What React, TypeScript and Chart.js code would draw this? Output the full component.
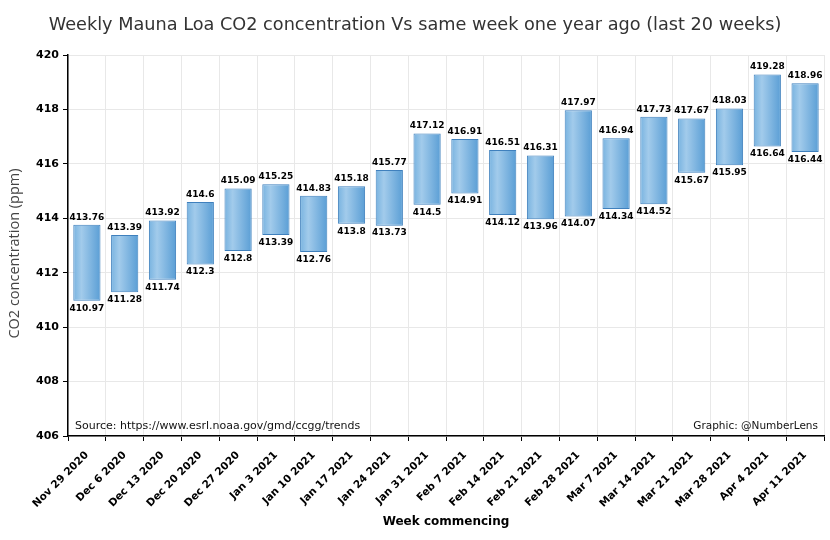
import Chart, { ChartConfiguration, Plugin } from 'chart.js/auto';
import React, { useEffect, useRef } from 'react';

const weeks = [
  'Nov 29 2020', 'Dec 6 2020', 'Dec 13 2020', 'Dec 20 2020', 'Dec 27 2020',
  'Jan 3 2021', 'Jan 10 2021', 'Jan 17 2021', 'Jan 24 2021', 'Jan 31 2021',
  'Feb 7 2021', 'Feb 14 2021', 'Feb 21 2021', 'Feb 28 2021', 'Mar 7 2021',
  'Mar 14 2021', 'Mar 21 2021', 'Mar 28 2021', 'Apr 4 2021', 'Apr 11 2021',
];

// same week one year ago
const lastYear = [
  410.97, 411.28, 411.74, 412.3, 412.8, 413.39, 412.76, 413.8, 413.73, 414.5,
  414.91, 414.12, 413.96, 414.07, 414.34, 414.52, 415.67, 415.95, 416.64, 416.44,
];

// this year
const thisYear = [
  413.76, 413.39, 413.92, 414.6, 415.09, 415.25, 414.83, 415.18, 415.77, 417.12,
  416.91, 416.51, 416.31, 417.97, 416.94, 417.73, 417.67, 418.03, 419.28, 418.96,
];

const FONT = '"DejaVu Sans", Verdana, sans-serif';

// horizontal gradient per bar, built from the laid-out elements
const gradientPlugin: Plugin = {
  id: 'barGradient',
  beforeDatasetsDraw(chart) {
    const ctx = chart.ctx;
    chart.getDatasetMeta(0).data.forEach((bar: any) => {
      const w = bar.width;
      if (!isFinite(bar.x) || !isFinite(w)) return;
      const g = ctx.createLinearGradient(bar.x - w / 2, 0, bar.x + w / 2, 0);
      g.addColorStop(0, '#78b3e0');
      g.addColorStop(0.3, '#a2cbeb');
      g.addColorStop(1, '#5a9ed5');
      // each bar has its own options object since backgroundColor is scriptable
      bar.options.backgroundColor = g;
    });
  },
};

// value labels above / below each bar, title and source notes
const labelsPlugin: Plugin = {
  id: 'barLabels',
  afterDatasetsDraw(chart) {
    const ctx = chart.ctx;
    const meta = chart.getDatasetMeta(0);
    ctx.save();
    ctx.font = 'bold 9px ' + FONT;
    ctx.fillStyle = '#000';
    ctx.textAlign = 'center';
    meta.data.forEach((bar: any, i: number) => {
      ctx.textBaseline = 'bottom';
      ctx.fillText(String(thisYear[i]), bar.x, bar.y - 3);
      ctx.textBaseline = 'top';
      ctx.fillText(String(lastYear[i]), bar.x, bar.base + 3);
    });

    const { left, right, top, bottom } = chart.chartArea;
    ctx.font = '11px ' + FONT;
    ctx.fillStyle = '#111';
    ctx.textBaseline = 'bottom';
    ctx.textAlign = 'left';
    ctx.fillText('Source: https://www.esrl.noaa.gov/gmd/ccgg/trends', left + 7, bottom - 4);
    ctx.font = '10.5px ' + FONT;
    ctx.textAlign = 'right';
    ctx.fillText('Graphic: @NumberLens', right - 6, bottom - 4);

    ctx.font = '17.7px ' + FONT;
    ctx.fillStyle = '#333';
    ctx.textAlign = 'center';
    ctx.textBaseline = 'middle';
    ctx.fillText(
      'Weekly Mauna Loa CO2 concentration Vs same week one year ago (last 20 weeks)',
      415,
      25
    );

    ctx.translate(15, (top + bottom) / 2 + 8);
    ctx.rotate(-Math.PI / 2);
    ctx.font = '14.5px "Open Sans", sans-serif';
    ctx.fillStyle = '#444';
    ctx.fillText('CO2 concentration (ppm)', 0, 0);
    ctx.restore();
  },
};

const App: React.FC = () => {
  const chartRef = useRef<HTMLCanvasElement>(null);

  useEffect(() => {
    if (!chartRef.current) return;
    const ctx = chartRef.current.getContext('2d');
    if (!ctx) return;

    const config: ChartConfiguration = {
      type: 'bar',
      data: {
        labels: weeks,
        datasets: [
          {
            data: weeks.map((_, i) => [lastYear[i], thisYear[i]]) as any,
            backgroundColor: () => '#7db7e2',
            borderColor: '#3f80bd',
            borderWidth: 1,
            borderSkipped: false,
            inflateAmount: 0,
          },
        ],
      },
      options: {
        responsive: false,
        animation: false,
        layout: { padding: { top: 55, right: 6, left: 0, bottom: 0 } },
        plugins: {
          legend: { display: false },
          tooltip: { enabled: false },
        },
        scales: {
          x: {
            grid: { color: '#e8e8e8', tickColor: '#000', tickLength: 5, offset: true },
            border: { color: '#000', width: 1.5 },
            ticks: {
              color: '#000',
              font: { family: FONT, size: 10.5, weight: 'bold' },
              minRotation: 45,
              maxRotation: 45,
              padding: 8,
            },
            title: {
              display: true,
              text: 'Week commencing',
              color: '#000',
              font: { family: FONT, size: 12, weight: 'bold' },
              padding: { top: 0, bottom: 11 },
            },
            afterFit: (s: any) => {
              s.height = 104;
            },
          },
          y: {
            min: 406,
            max: 420,
            ticks: {
              stepSize: 2,
              color: '#000',
              font: { family: FONT, size: 11, weight: 'bold' },
              padding: 4,
            },
            grid: { color: '#e8e8e8', tickColor: '#000', tickLength: 5 },
            border: { color: '#000', width: 1.5 },
            afterFit: (s: any) => {
              s.width = 68;
            },
          },
        },
      },
      plugins: [gradientPlugin, labelsPlugin],
    };

    const chart = new Chart(ctx, config);
    return () => {
      chart.destroy();
    };
  }, []);

  return (
    <div style={{ position: 'fixed', left: 0, top: 0, width: 830, height: 540, background: '#fff' }}>
      <canvas ref={chartRef} width={830} height={540} />
    </div>
  );
};

export default App;
